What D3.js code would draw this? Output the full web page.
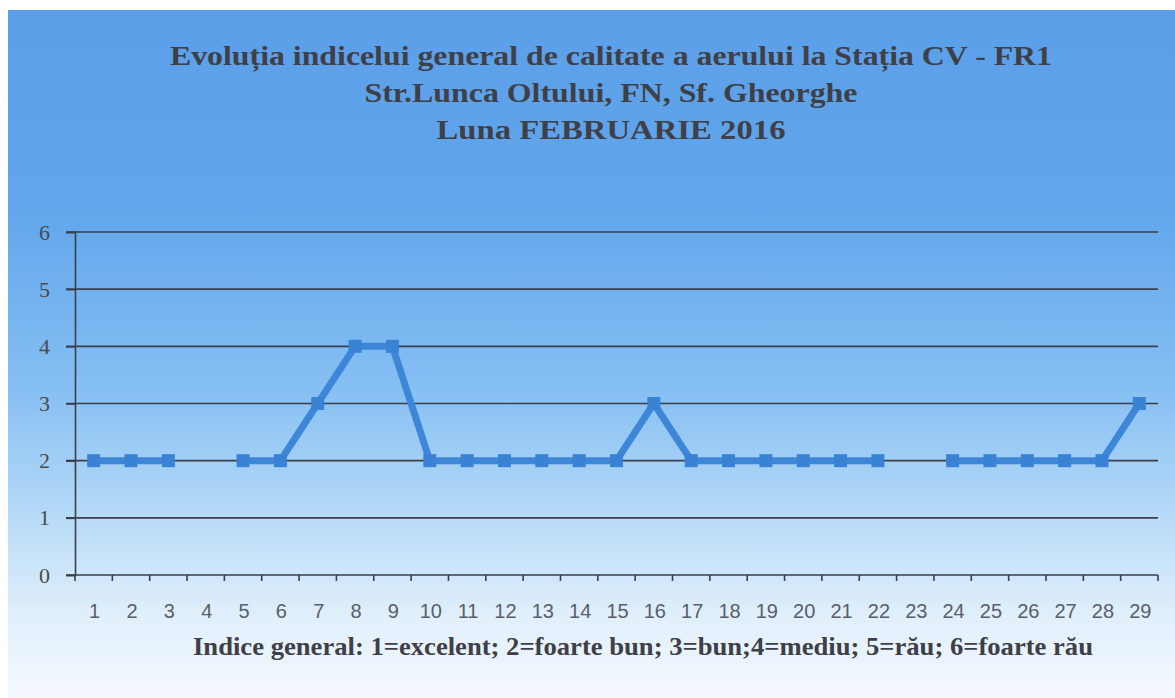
<!DOCTYPE html>
<html><head><meta charset="utf-8">
<script src="https://cdn.jsdelivr.net/npm/d3@7"></script>
<style>html,body{margin:0;padding:0;background:#fff;}svg{display:block;}</style>
</head><body>
<script>
const titleLines = ["Evoluția indicelui general de calitate a aerului la Stația CV - FR1","Str.Lunca Oltului, FN, Sf. Gheorghe","Luna  FEBRUARIE 2016"];
const titleWidths = [882, 493, 349];
const days = ["1","2","3","4","5","6","7","8","9","10","11","12","13","14","15","16","17","18","19","20","21","22","23","24","25","26","27","28","29"];
const values = [2,2,2,null,2,2,3,4,4,2,2,2,2,2,2,3,2,2,2,2,2,2,null,2,2,2,2,2,3];
const yTicks = [0,1,2,3,4,5,6];
const caption = "Indice general: 1=excelent; 2=foarte bun; 3=bun;4=mediu; 5=rău; 6=foarte rău";

const W=1175,H=698;
const svg=d3.select("body").append("svg").attr("width",W).attr("height",H);
const defs=svg.append("defs");
const g=defs.append("linearGradient").attr("id","bg").attr("x1",0).attr("y1",0).attr("x2",0).attr("y2",1);
[[0,"#5a9fe8"],[0.3,"#62a7ec"],[0.55,"#86bff3"],[0.72,"#b2d8f7"],[0.88,"#e0effb"],[1,"#f4f8fd"]].forEach(([o,c])=>g.append("stop").attr("offset",o).attr("stop-color",c));
svg.append("rect").attr("x",8).attr("y",10).attr("width",W-8).attr("height",H-10).attr("fill","url(#bg)");

const m={l:75,r:1158,t:232,b:575};
const x=d3.scaleBand().domain(days).range([m.l,m.r]);
const y=d3.scaleLinear().domain([0,6]).range([m.b,m.t]);

// gridlines
svg.append("g").selectAll("line").data(yTicks.filter(d=>d>0)).join("line")
  .attr("x1",m.l-9).attr("x2",m.r).attr("y1",d=>y(d)).attr("y2",d=>y(d))
  .attr("stroke","#3a3f4a").attr("stroke-width",1.6);

// y axis
const ya=svg.append("g").attr("transform",`translate(${m.l},0)`).call(d3.axisLeft(y).tickValues(yTicks).tickSize(9).tickPadding(16).tickFormat(d3.format("d")));
ya.select(".domain").attr("stroke","#3a3f4a").attr("stroke-width",1.6);
ya.selectAll(".tick line").attr("stroke","#3a3f4a").attr("stroke-width",1.6);
ya.selectAll("text").attr("font-family","Liberation Serif, Times New Roman, serif").attr("font-size",22).attr("fill","#4a4a4a");

// x axis
const xa=svg.append("g").attr("transform",`translate(0,${m.b})`);
xa.append("line").attr("x1",m.l-9).attr("x2",m.r).attr("y1",0).attr("y2",0).attr("stroke","#3a3f4a").attr("stroke-width",1.6);
const bounds=days.map(d=>x(d)).concat([m.r]);
xa.selectAll("line.tk").data(bounds).join("line").attr("class","tk")
  .attr("x1",d=>d).attr("x2",d=>d).attr("y1",0).attr("y2",6).attr("stroke","#3a3f4a").attr("stroke-width",1.6);
xa.selectAll("text").data(days).join("text")
  .attr("x",d=>x(d)+x.bandwidth()/2+1).attr("y",43).attr("text-anchor","middle")
  .attr("font-family","Liberation Sans, Arial, sans-serif").attr("font-size",20).attr("fill","#5a5e6a")
  .text(d=>d);

// line
const pts=days.map((d,i)=>({d,v:values[i]}));
const line=d3.line().defined(p=>p.v!=null).x(p=>x(p.d)+x.bandwidth()/2).y(p=>y(p.v));
svg.append("path").datum(pts).attr("d",line).attr("fill","none").attr("stroke","#3e87d8").attr("stroke-width",7).attr("stroke-linejoin","round");
svg.append("g").selectAll("rect").data(pts.filter(p=>p.v!=null)).join("rect")
  .attr("x",p=>x(p.d)+x.bandwidth()/2-6.5).attr("y",p=>y(p.v)-6.5).attr("width",13).attr("height",13)
  .attr("fill","#3a82d4");

// title
svg.append("g").selectAll("text").data(titleLines).join("text")
  .attr("x",611).attr("y",(d,i)=>65+i*37).attr("text-anchor","middle")
  .attr("font-family","Liberation Serif, Times New Roman, serif").attr("font-weight","bold").attr("font-size",28)
  .attr("textLength",(d,i)=>titleWidths[i]).attr("lengthAdjust","spacingAndGlyphs")
  .attr("fill","#3f3f48").text(d=>d);

// caption
svg.append("text").attr("x",643).attr("y",655).attr("text-anchor","middle")
  .attr("font-family","Liberation Serif, Times New Roman, serif").attr("font-weight","bold").attr("font-size",25)
  .attr("textLength",900).attr("lengthAdjust","spacingAndGlyphs")
  .attr("fill","#3f3f48").text(caption);
</script>
</body></html>
